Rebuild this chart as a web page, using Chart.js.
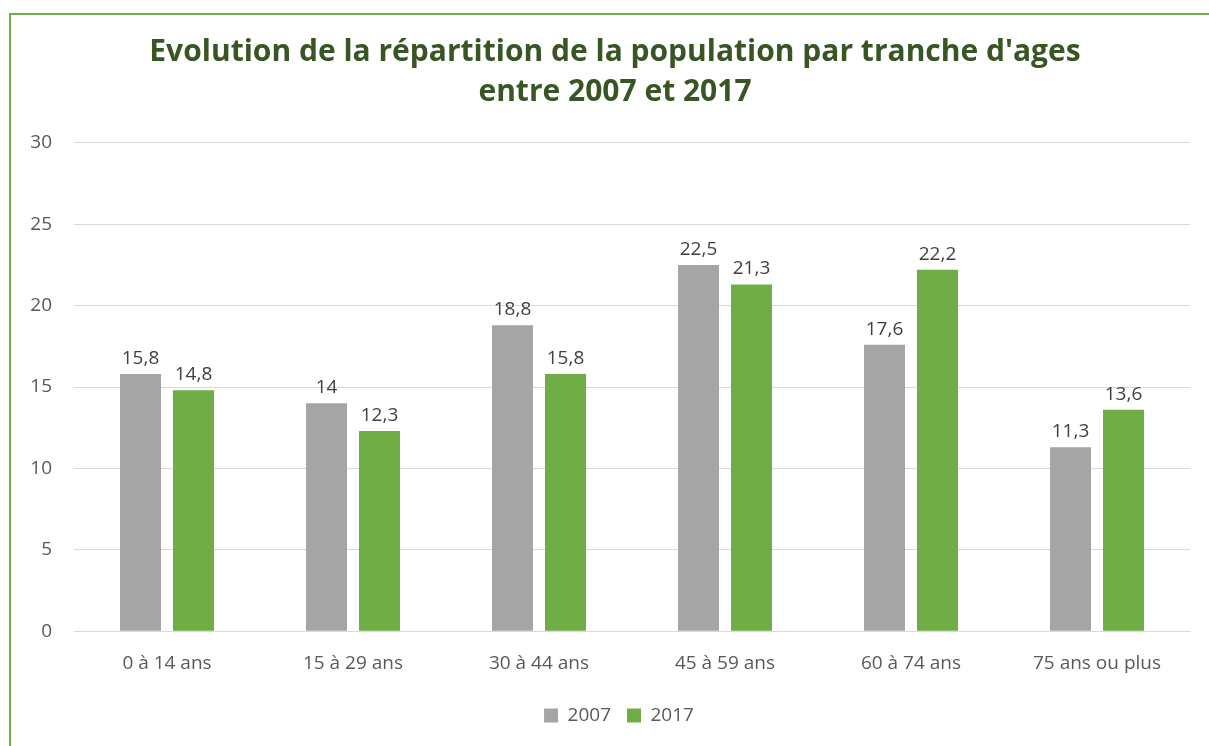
<!DOCTYPE html>
<html>
<head>
<meta charset="utf-8">
<script src="https://cdn.jsdelivr.net/npm/chart.js@4/dist/chart.umd.min.js"></script>
<style>
  html, body { margin: 0; padding: 0; background: #fff; overflow: hidden; }
  #frame { position: absolute; left: 9px; top: 13px; width: 1300px; height: 800px;
           border-top: 2px solid #70ad47; border-left: 2px solid #70ad47; }
  #wrap { position: absolute; left: 0; top: 0; width: 1209px; height: 746px; }
</style>
</head>
<body>
<div id="frame"></div>
<div id="wrap"><canvas id="chart"></canvas></div>
<script>
const categories = ['0 à 14 ans', '15 à 29 ans', '30 à 44 ans', '45 à 59 ans', '60 à 74 ans', '75 ans ou plus'];
const values2007 = [15.8, 14, 18.8, 22.5, 17.6, 11.3];
const values2017 = [14.8, 12.3, 15.8, 21.3, 22.2, 13.6];
const yTicks = [0, 5, 10, 15, 20, 25, 30];

const fontFamily = "'Open Sans', 'Noto Sans', sans-serif";
const textColor = '#595959';

// labels above each bar, french decimal comma
const barLabels = {
  id: 'barLabels',
  afterDatasetsDraw(chart) {
    const ctx = chart.ctx;
    ctx.save();
    ctx.font = `19px ${fontFamily}`;
    ctx.fillStyle = '#404040';
    ctx.textAlign = 'center';
    ctx.textBaseline = 'bottom';
    chart.data.datasets.forEach((ds, i) => {
      chart.getDatasetMeta(i).data.forEach((bar, j) => {
        ctx.fillText(String(ds.data[j]).replace('.', ','), bar.x, bar.y - 6);
      });
    });
    ctx.restore();
  }
};

// title and legend sit a bit right of the canvas centre in the original
const boxShift = {
  id: 'boxShift',
  afterLayout(chart) {
    if (chart.titleBlock) {
      chart.titleBlock.left += 15;
      chart.titleBlock.right += 15;
    }
    if (chart.legend) {
      chart.legend.left += 19;
      chart.legend.right += 19;
    }
  }
};

new Chart(document.getElementById('chart'), {
  type: 'bar',
  data: {
    labels: categories,
    datasets: [
      { label: '2007', data: values2007, backgroundColor: '#a5a5a5' },
      { label: '2017', data: values2017, backgroundColor: '#70ad47' }
    ]
  },
  options: {
    responsive: true,
    maintainAspectRatio: false,
    animation: false,
    categoryPercentage: 0.57,
    barPercentage: 0.774,
    layout: { padding: { left: 10, right: 19, top: 23, bottom: 11 } },
    plugins: {
      title: {
        display: true,
        text: ["Evolution de la répartition de la population par tranche d'ages", 'entre 2007 et 2017'],
        color: '#375623',
        font: { family: fontFamily, size: 30, weight: 'bold', lineHeight: 1.33 },
        padding: { top: 10, bottom: 30 }
      },
      legend: {
        position: 'bottom',
        labels: {
          color: textColor,
          font: { family: fontFamily, size: 19 },
          boxWidth: 14,
          boxHeight: 14,
          padding: 16
        }
      },
      tooltip: { enabled: false }
    },
    scales: {
      x: {
        grid: { display: false },
        border: { color: '#d9d9d9' },
        afterFit: scale => { scale.height += 2; },
        ticks: { color: textColor, font: { family: fontFamily, size: 19 }, padding: 13 }
      },
      y: {
        min: 0,
        max: 30,
        afterBuildTicks: scale => { scale.ticks = yTicks.map(v => ({ value: v })); },
        afterFit: scale => { scale.width = 64; },
        grid: { color: '#d9d9d9', drawTicks: false },
        border: { display: false },
        ticks: { color: textColor, font: { family: fontFamily, size: 19 }, padding: 22 }
      }
    }
  },
  plugins: [barLabels, boxShift]
});
</script>
</body>
</html>
